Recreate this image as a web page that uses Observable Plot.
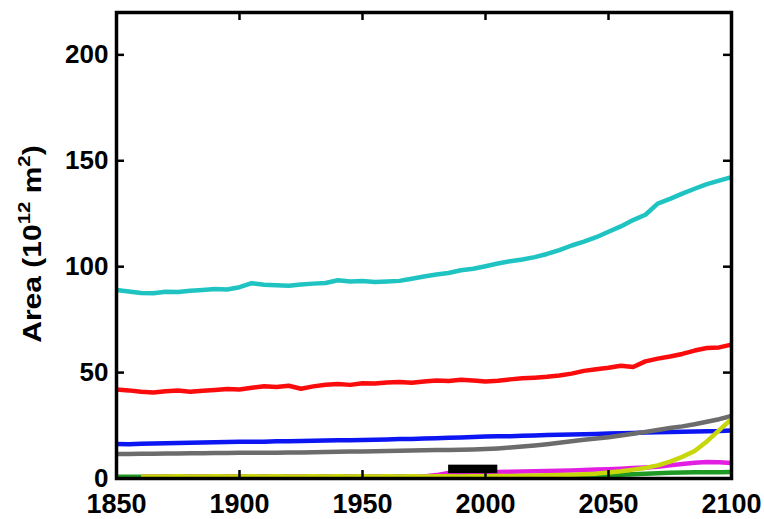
<!DOCTYPE html>
<html><head><meta charset="utf-8">
<script src="https://cdn.jsdelivr.net/npm/d3@7"></script>
<script src="https://cdn.jsdelivr.net/npm/@observablehq/plot@0.6"></script>
<style>body{margin:0;background:#fff}</style>
</head><body><div id="chart"></div>
<script>
const years = [1850,1855,1860,1865,1870,1875,1880,1885,1890,1895,1900,1905,1910,1915,1920,1925,1930,1935,1940,1945,1950,1955,1960,1965,1970,1975,1980,1985,1990,1995,2000,2005,2010,2015,2020,2025,2030,2035,2040,2045,2050,2055,2060,2065,2070,2075,2080,2085,2090,2095,2100];
const cyanSeries = [89.0,88.3,87.6,87.5,88.2,88.0,88.6,89.0,89.5,89.2,90.3,92.2,91.5,91.2,91.0,91.6,92.0,92.3,93.6,93.0,93.2,92.8,93.0,93.3,94.3,95.4,96.3,97.0,98.3,99.0,100.2,101.5,102.6,103.4,104.5,106.0,107.8,110.0,111.8,113.9,116.5,119.0,122.0,124.5,129.8,132.0,134.5,136.8,139.0,140.6,142.3];
const redSeries = [42.0,41.6,41.0,40.6,41.2,41.5,41.0,41.4,41.8,42.2,42.0,42.8,43.6,43.2,43.8,42.4,43.5,44.3,44.6,44.2,45.0,44.8,45.3,45.6,45.2,45.8,46.3,46.0,46.6,46.3,45.8,46.2,46.8,47.3,47.6,48.0,48.6,49.5,50.8,51.6,52.3,53.2,52.6,55.3,56.6,57.6,58.8,60.4,61.6,61.9,63.2];
const blueSeries = [16.3,16.2,16.4,16.5,16.6,16.8,16.9,17.0,17.1,17.2,17.3,17.4,17.4,17.6,17.6,17.7,17.8,17.9,18.0,18.1,18.2,18.3,18.4,18.6,18.7,18.9,19.0,19.2,19.4,19.6,19.8,19.9,20.0,20.2,20.3,20.5,20.6,20.8,20.9,21.0,21.2,21.4,21.5,21.7,21.8,22.0,22.1,22.2,22.3,22.4,22.7];
const graySeries = [11.6,11.6,11.7,11.7,11.8,11.8,11.9,11.9,12.0,12.0,12.1,12.1,12.2,12.2,12.3,12.3,12.4,12.5,12.6,12.7,12.8,12.9,13.0,13.1,13.2,13.3,13.4,13.5,13.6,13.7,13.9,14.2,14.6,15.1,15.6,16.2,16.9,17.6,18.3,18.9,19.5,20.3,21.1,22.0,22.9,23.8,24.6,25.6,26.8,28.0,29.5];
const greenSeries = [0.8,0.8,0.8,0.8,0.8,0.8,0.8,0.8,0.8,0.8,0.8,0.8,0.8,0.8,0.8,0.8,0.8,0.8,0.8,0.8,0.8,0.8,0.8,0.8,0.8,0.8,0.8,0.8,0.8,0.8,0.8,0.8,0.8,0.8,0.8,0.8,0.8,0.9,1.0,1.2,1.5,1.8,2.0,2.3,2.5,2.7,2.8,2.9,3.0,3.0,3.1];
const magentaSeries = [null,null,1.0,1.0,1.0,1.0,1.0,1.0,1.0,1.0,1.0,1.0,1.0,1.0,1.0,1.0,1.0,1.0,1.0,1.0,1.0,1.0,1.0,1.0,1.0,1.0,1.6,2.6,2.8,2.9,3.0,3.1,3.2,3.3,3.4,3.6,3.7,3.8,4.0,4.2,4.4,4.6,4.9,5.2,5.6,6.2,6.8,7.4,7.8,7.7,7.3];
const yellowSeries = [null,null,1.0,1.0,1.0,1.1,1.0,1.0,1.1,1.0,1.0,1.1,1.0,1.1,1.0,1.0,1.1,1.0,1.1,1.0,1.1,1.0,1.1,1.0,1.1,1.0,1.1,1.1,1.0,1.1,1.1,1.2,1.2,1.3,1.4,1.5,1.6,1.8,2.0,2.3,2.8,3.4,4.2,5.0,6.2,8.0,10.2,13.0,17.5,22.8,28.0];
const barPeriod = [1985, 2005];
const barRange = [2.3, 6.3];
const xTicks = [1850,1900,1950,2000,2050,2100];
const yTicks = [0,50,100,150,200];

const seriesList = [
  {name:"cyan", values:cyanSeries, color:"#1fc4c2"},
  {name:"red", values:redSeries, color:"#fb0c0c"},
  {name:"blue", values:blueSeries, color:"#0c16f2"},
  {name:"gray", values:graySeries, color:"#6c6c6c"},
  {name:"green", values:greenSeries, color:"#1e9a24"},
  {name:"magenta", values:magentaSeries, color:"#e21ee2"},
  {name:"yellow", values:yellowSeries, color:"#c8d60c"}
];

const W = 764, H = 519, mL = 116, mR = 33, mT = 12, mB = 41;
const pw = W - mL - mR, ph = H - mT - mB;
const tickLen = 8;

const lineMarks = seriesList.map(s =>
  Plot.line(years.map((yr, i) => ({year: yr, v: s.values[i]})), {
    x: "year", y: "v", stroke: s.color, strokeWidth: 4.5, strokeLinejoin: "round", strokeLinecap: "butt"
  })
);

const chart = Plot.plot({
  width: W, height: H,
  marginLeft: mL, marginRight: mR, marginTop: mT, marginBottom: mB,
  style: {fontFamily: "'Liberation Sans', Arial, Helvetica, sans-serif", background: "#fff", overflow: "visible", color: "#000"},
  x: {domain: [1850, 2100]},
  y: {domain: [0, 220]},
  marks: [
    ...lineMarks,
    Plot.rect([{x1: barPeriod[0], x2: barPeriod[1], y1: barRange[0], y2: barRange[1]}], {x1: "x1", x2: "x2", y1: "y1", y2: "y2", fill: "#000"}),
    Plot.tickY(yTicks, {y: d => d, stroke: "#000", strokeWidth: 2.5, insetRight: pw - tickLen}),
    Plot.tickY(yTicks, {y: d => d, stroke: "#000", strokeWidth: 2.5, insetLeft: pw - tickLen}),
    Plot.tickX(xTicks, {x: d => d, stroke: "#000", strokeWidth: 2.5, insetTop: ph - tickLen}),
    Plot.tickX(xTicks, {x: d => d, stroke: "#000", strokeWidth: 2.5, insetBottom: ph - tickLen}),
    Plot.frame({stroke: "#000", strokeWidth: 3.5}),
    Plot.axisY({ticks: yTicks, tickSize: 0, tickPadding: 8, fontSize: 26, fontWeight: "bold",
      label: null, tickFormat: d => String(d)}),
    Plot.axisX({ticks: xTicks, tickSize: 0, tickPadding: 15, fontSize: 27, fontWeight: "bold",
      label: null, tickFormat: d => String(d)})
  ]
});
document.getElementById("chart").append(chart);

// y-axis title with superscripts
const ns = "http://www.w3.org/2000/svg";
const lab = document.createElementNS(ns, "text");
lab.setAttribute("transform", "translate(41,244) rotate(-90) scale(1.2,1)");
lab.setAttribute("text-anchor", "middle");
lab.setAttribute("font-family", "'Liberation Sans', Arial, Helvetica, sans-serif");
lab.setAttribute("font-weight", "bold");
lab.setAttribute("font-size", "25");
lab.setAttribute("fill", "#000");
const parts = [["Area (10", 0], ["12", 1], [" m", 0], ["2", 1], [")", 0]];
let shifted = false;
for (const [t, sup] of parts) {
  const ts = document.createElementNS(ns, "tspan");
  ts.textContent = t;
  if (sup) { ts.setAttribute("font-size", "17"); ts.setAttribute("dy", "-11"); shifted = true; }
  else if (shifted) { ts.setAttribute("dy", "11"); shifted = false; }
  lab.appendChild(ts);
}
chart.appendChild(lab);
</script>
</body></html>
